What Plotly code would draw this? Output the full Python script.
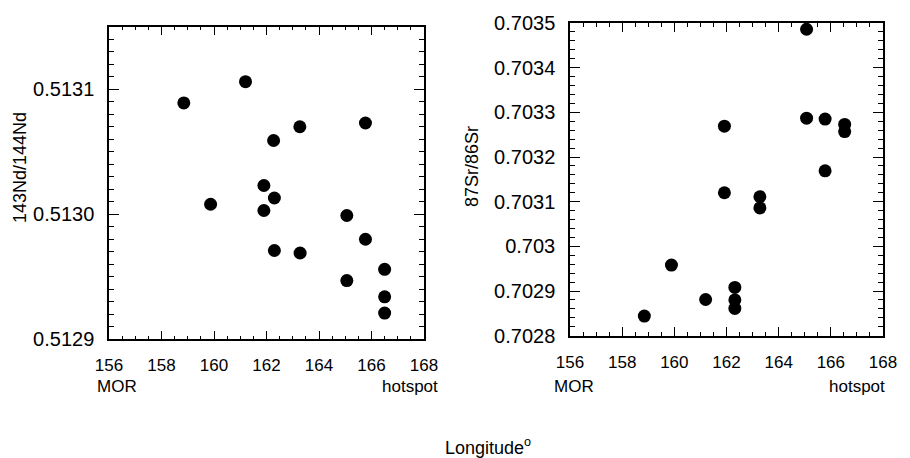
import plotly.graph_objects as go

# ---- data ----
nd_lon = [158.85, 161.2, 159.87, 162.27, 163.27, 165.77, 161.9, 162.3, 161.9, 162.3,
          163.28, 165.06, 165.77, 165.06, 166.5, 166.5, 166.5]
nd_ratio = [0.513089, 0.513106, 0.513008, 0.513059, 0.513070, 0.513073, 0.513023,
            0.513013, 0.513003, 0.512971, 0.512969, 0.512999, 0.512980, 0.512947,
            0.512956, 0.512934, 0.512921]

sr_lon = [165.07, 165.07, 165.78, 166.53, 166.53, 165.78, 161.92, 161.92, 163.28,
          163.28, 159.89, 161.2, 162.32, 162.32, 162.32, 158.85]
sr_ratio = [0.703486, 0.703287, 0.703285, 0.703273, 0.703257, 0.703169, 0.703269,
            0.703120, 0.703111, 0.703086, 0.702958, 0.702881, 0.702908, 0.702880,
            0.702861, 0.702844]

x_range = [156, 168]
nd_range = [0.5129, 0.51315]
sr_range = [0.7028, 0.7035]
left_title = "143Nd/144Nd"
right_title = "87Sr/86Sr"
x_title = "Longitude<sup>o</sup>"
end_labels = ["MOR", "hotspot"]

W, H = 910, 458
def px(x):
    return x / W
def py(y):
    return 1 - y / H

regular = "Liberation Sans, Arial, sans-serif"

fig = go.Figure()
fig.add_trace(go.Scatter(x=nd_lon, y=nd_ratio, mode="markers",
                         marker=dict(color="black", size=13), xaxis="x", yaxis="y",
                         showlegend=False))
fig.add_trace(go.Scatter(x=sr_lon, y=sr_ratio, mode="markers",
                         marker=dict(color="black", size=13), xaxis="x2", yaxis="y2",
                         showlegend=False))

def xax(domain, anchor):
    return dict(domain=domain, anchor=anchor, range=x_range, dtick=2, tick0=156,
                showline=True, linecolor="black", linewidth=1.5, mirror="allticks",
                ticks="inside", ticklen=9, tickwidth=1, tickcolor="black",
                showgrid=False, zeroline=False, automargin=False,
                ticklabelstandoff=10,
                minor=dict(dtick=0.5, ticks="inside", ticklen=4, tickcolor="black",
                           tickwidth=1, showgrid=False),
                tickfont=dict(family=regular, size=17, color="black"))

def yax(domain, anchor, rng, minor_dtick, fmt):
    d = dict(domain=domain, anchor=anchor, range=rng, dtick=0.0001, tick0=rng[0],
             showline=True, linecolor="black", linewidth=1.5, mirror="allticks",
             ticks="inside", ticklen=10, tickwidth=1, tickcolor="black",
             showgrid=False, zeroline=False, automargin=False,
             ticklabelstandoff=9,
             minor=dict(dtick=minor_dtick, ticks="inside", ticklen=5, tickcolor="black",
                        tickwidth=1, showgrid=False),
             tickfont=dict(family=regular, size=20, color="black"))
    if fmt:
        d["tickformat"] = fmt
    return d

fig.update_layout(
    width=W, height=H,
    margin=dict(l=0, r=0, t=0, b=0),
    paper_bgcolor="white", plot_bgcolor="white",
    xaxis=xax([px(109), px(424)], "y"),
    yaxis=yax([py(339.3), py(26.7)], "x", nd_range, 0.00001, ".4f"),
    xaxis2=xax([px(570), px(883)], "y2"),
    yaxis2=yax([py(335.7), py(23)], "x2", sr_range, 0.00002, None),
)

ann = []
ann.append(dict(text=left_title, x=px(20), y=py(168), xref="paper", yref="paper",
                textangle=-90, showarrow=False, xanchor="center", yanchor="middle",
                font=dict(family=regular, size=18, color="black")))
ann.append(dict(text=right_title, x=px(472), y=py(167), xref="paper", yref="paper",
                textangle=-90, showarrow=False, xanchor="center", yanchor="middle",
                font=dict(family=regular, size=18, color="black")))
for left, right in [(95, 440), (552, 887)]:
    ann.append(dict(text=end_labels[0], x=px(left), y=py(386), xref="paper", yref="paper",
                    showarrow=False, xanchor="left", yanchor="middle",
                    font=dict(family=regular, size=17, color="black")))
    ann.append(dict(text=end_labels[1], x=px(right), y=py(386), xref="paper", yref="paper",
                    showarrow=False, xanchor="right", yanchor="middle",
                    font=dict(family=regular, size=17, color="black")))
ann.append(dict(text=x_title, x=px(488), y=py(446), xref="paper", yref="paper",
                showarrow=False, xanchor="center", yanchor="middle",
                font=dict(family=regular, size=18, color="black")))
fig.update_layout(annotations=ann)

fig.write_html("out.html", config={"displayModeBar": False},
               post_script="document.body.style.margin='0';document.body.style.overflow='hidden';")
